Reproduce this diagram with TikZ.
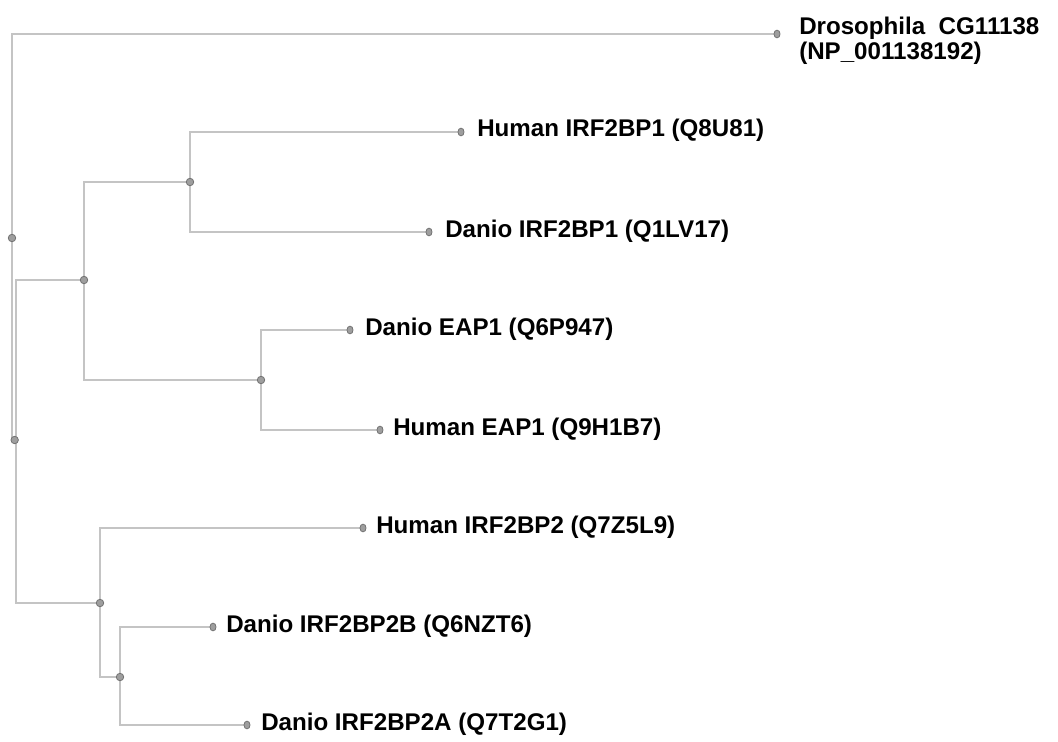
\documentclass[tikz,border=0pt]{standalone}
\usepackage{fontspec}
\setmainfont{Liberation Sans}
\usetikzlibrary{shapes.geometric}
\begin{document}
\begin{tikzpicture}[x=0.75pt,y=-0.75pt,
  edge/.style={draw=black!23,line width=1.1pt},
  inner/.style={circle,draw=black!55,fill=black!38,line width=0.6pt,minimum size=5.6pt,inner sep=0pt},
  leafdot/.style={ellipse,draw=black!55,fill=black!38,line width=0.6pt,minimum width=4.6pt,minimum height=5.8pt,inner sep=0pt},
  lab/.style={anchor=base west,inner sep=0pt,font=\fontsize{18.1}{20}\selectfont\bfseries}]
\useasboundingbox (0,0) rectangle (1058,742);
% tree points
\coordinate (r) at (12,238);
\coordinate (n1) at (16,440);
\coordinate (n2) at (84,280);
\coordinate (n3) at (190,182);
\coordinate (n4) at (261,380);
\coordinate (n5) at (100,603);
\coordinate (n6) at (120,677);
\coordinate (dro) at (777,34);
\coordinate (h1) at (461,132);
\coordinate (d1) at (429,232);
\coordinate (de) at (350,330);
\coordinate (he) at (380,430);
\coordinate (h2) at (363,528);
\coordinate (d2b) at (213,627);
\coordinate (d2a) at (247,725);
% edges
\draw[edge] (r) |- (dro);
\draw[edge] (r) |- (n1);
\draw[edge] (n1) |- (n2);
\draw[edge] (n1) |- (n5);
\draw[edge] (n2) |- (n3);
\draw[edge] (n2) |- (n4);
\draw[edge] (n3) |- (h1);
\draw[edge] (n3) |- (d1);
\draw[edge] (n4) |- (de);
\draw[edge] (n4) |- (he);
\draw[edge] (n5) |- (h2);
\draw[edge] (n5) |- (n6);
\draw[edge] (n6) |- (d2b);
\draw[edge] (n6) |- (d2a);
% markers
\foreach \p in {r,n2,n3,n4,n5,n6} \node[inner] (m\p) at (\p) {};
\node[inner] (mn1) at ([xshift=-1pt]n1) {};
\foreach \p in {dro,h1,d1,de,he,h2,d2b,d2a} \node[leafdot] (m\p) at (\p) {};
% labels
\node[lab,anchor=north west,align=left,font=\fontsize{18.1}{18.6}\selectfont\bfseries] (tdro) at (799,17) {Drosophila\ \ CG11138\\(NP\_001138192)};
\node[lab] (th1) at (477,137) {Human IRF2BP1 (Q8U81)};
\node[lab] (td1) at (445,237) {Danio IRF2BP1 (Q1LV17)};
\node[lab] (tde) at (365,335) {Danio EAP1 (Q6P947)};
\node[lab] (the) at (393,435) {Human EAP1 (Q9H1B7)};
\node[lab] (th2) at (376,533) {Human IRF2BP2 (Q7Z5L9)};
\node[lab] (td2b) at (226,632) {Danio IRF2BP2B (Q6NZT6)};
\node[lab] (td2a) at (261,730) {Danio IRF2BP2A (Q7T2G1)};
\end{tikzpicture}
\end{document}
